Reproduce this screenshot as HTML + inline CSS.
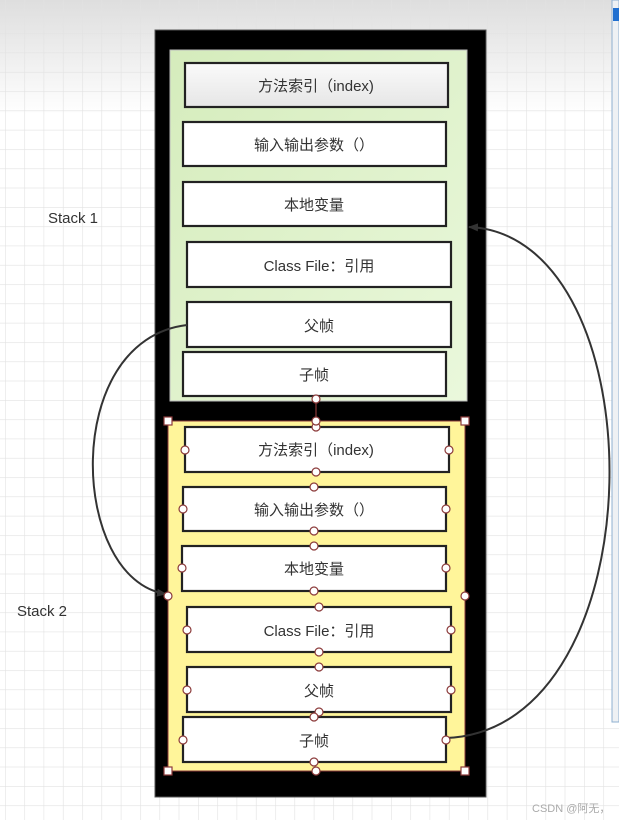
<!DOCTYPE html>
<html><head><meta charset="utf-8"><style>
html,body{margin:0;padding:0;width:619px;height:820px;overflow:hidden;background:#fff}
svg{display:block}
text{font-family:"Liberation Sans","Noto Sans CJK SC",sans-serif;fill:#333}
</style></head><body>
<svg width="619" height="820" viewBox="0 0 619 820" xmlns="http://www.w3.org/2000/svg">
<defs>
<linearGradient id="bg" x1="0" y1="0" x2="0" y2="1">
<stop offset="0" stop-color="#dedede"/><stop offset="0.14" stop-color="#ffffff"/><stop offset="1" stop-color="#ffffff"/>
</linearGradient>
<pattern id="grid" width="19.3" height="19.3" patternUnits="userSpaceOnUse" x="5" y="14">
<path d="M0 0H19.3M0 0V19.3" stroke="#e2e2e2" stroke-width="1.2" fill="none"/>
</pattern>
<linearGradient id="gr" x1="0" y1="0" x2="1" y2="1">
<stop offset="0" stop-color="#d5ecbc"/><stop offset="1" stop-color="#eaf8dc"/>
</linearGradient>
<linearGradient id="ib" x1="0" y1="0" x2="0" y2="1">
<stop offset="0" stop-color="#fafafa"/><stop offset="1" stop-color="#e6e6e6"/>
</linearGradient>
<marker id="ar" markerWidth="10" markerHeight="8" refX="9" refY="4" orient="auto" markerUnits="userSpaceOnUse">
<path d="M0 0L10 4L0 8Z" fill="#333"/>
</marker>
</defs>
<rect width="619" height="820" fill="url(#bg)"/>
<rect width="619" height="820" fill="url(#grid)"/>
<!-- right panel -->
<rect x="612" y="0" width="7" height="722" fill="#eef1f4" stroke="#8fb0d0" stroke-width="1"/>
<rect x="613" y="8" width="6" height="13" fill="#1f6fd0"/>

<text x="48" y="223" font-size="15">Stack 1</text>
<text x="17" y="616" font-size="15">Stack 2</text>

<!-- outer black -->
<rect x="155" y="30" width="331" height="767" fill="#000" stroke="#555" stroke-width="1"/>
<rect x="170" y="50" width="297" height="351" fill="url(#gr)" stroke="#bbb" stroke-width="1"/>
<rect x="168" y="421" width="297" height="350" fill="#fff59a" stroke="#8b3a3a" stroke-width="1"/>

<g stroke="#222" stroke-width="2.2">
<rect x="185" y="63" width="263" height="44" fill="url(#ib)"/>
<rect x="183" y="122" width="263" height="44" fill="#fff"/>
<rect x="183" y="182" width="263" height="44" fill="#fff"/>
<rect x="187" y="242" width="264" height="45" fill="#fff"/>
<rect x="187" y="302" width="264" height="45" fill="#fff"/>
<rect x="183" y="352" width="263" height="44" fill="#fff"/>

<rect x="185" y="427" width="264" height="45" fill="#fff"/>
<rect x="183" y="487" width="263" height="44" fill="#fff"/>
<rect x="182" y="546" width="264" height="45" fill="#fff"/>
<rect x="187" y="607" width="264" height="45" fill="#fff"/>
<rect x="187" y="667" width="264" height="45" fill="#fff"/>
<rect x="183" y="717" width="263" height="45" fill="#fff"/>
</g>
<g font-size="15" text-anchor="middle">
<text x="316" y="91">方法索引（index)</text>
<text x="314" y="150">输入输出参数（）</text>
<text x="314" y="210">本地变量</text>
<text x="319" y="271">Class File：引用</text>
<text x="319" y="331">父帧</text>
<text x="314" y="380">子帧</text>
<text x="316" y="455">方法索引（index)</text>
<text x="314" y="515">输入输出参数（）</text>
<text x="314" y="574">本地变量</text>
<text x="319" y="636">Class File：引用</text>
<text x="319" y="696">父帧</text>
<text x="314" y="746">子帧</text>
</g>

<!-- connectors -->
<line x1="316" y1="399" x2="316" y2="421" stroke="#8b3a3a" stroke-width="1.2"/>
<path d="M187 325 C 60 340, 70 580, 166 594" fill="none" stroke="#333" stroke-width="2" marker-end="url(#ar)"/>
<path d="M446 738 C 660 730, 660 235, 469 227" fill="none" stroke="#333" stroke-width="2" marker-end="url(#ar)"/>

<!-- handles -->
<g fill="#fff" stroke="#8b3a3a" stroke-width="1.2">
<circle cx="316" cy="399" r="4"/>
<circle cx="316" cy="427" r="4"/><circle cx="316" cy="472" r="4"/><circle cx="185" cy="450" r="4"/><circle cx="449" cy="450" r="4"/>
<circle cx="314" cy="487" r="4"/><circle cx="314" cy="531" r="4"/><circle cx="183" cy="509" r="4"/><circle cx="446" cy="509" r="4"/>
<circle cx="314" cy="546" r="4"/><circle cx="314" cy="591" r="4"/><circle cx="182" cy="568" r="4"/><circle cx="446" cy="568" r="4"/>
<circle cx="319" cy="607" r="4"/><circle cx="319" cy="652" r="4"/><circle cx="187" cy="630" r="4"/><circle cx="451" cy="630" r="4"/>
<circle cx="319" cy="667" r="4"/><circle cx="319" cy="712" r="4"/><circle cx="187" cy="690" r="4"/><circle cx="451" cy="690" r="4"/>
<circle cx="314" cy="717" r="4"/><circle cx="314" cy="762" r="4"/><circle cx="183" cy="740" r="4"/><circle cx="446" cy="740" r="4"/>
<circle cx="316" cy="421" r="4"/><circle cx="316" cy="771" r="4"/><circle cx="168" cy="596" r="4"/><circle cx="465" cy="596" r="4"/>
<rect x="164" y="417" width="8" height="8"/><rect x="461" y="417" width="8" height="8"/>
<rect x="164" y="767" width="8" height="8"/><rect x="461" y="767" width="8" height="8"/>
</g>

<text x="532" y="812" font-size="11" style="fill:#aaa">CSDN @阿无，</text>
</svg>
</body></html>
